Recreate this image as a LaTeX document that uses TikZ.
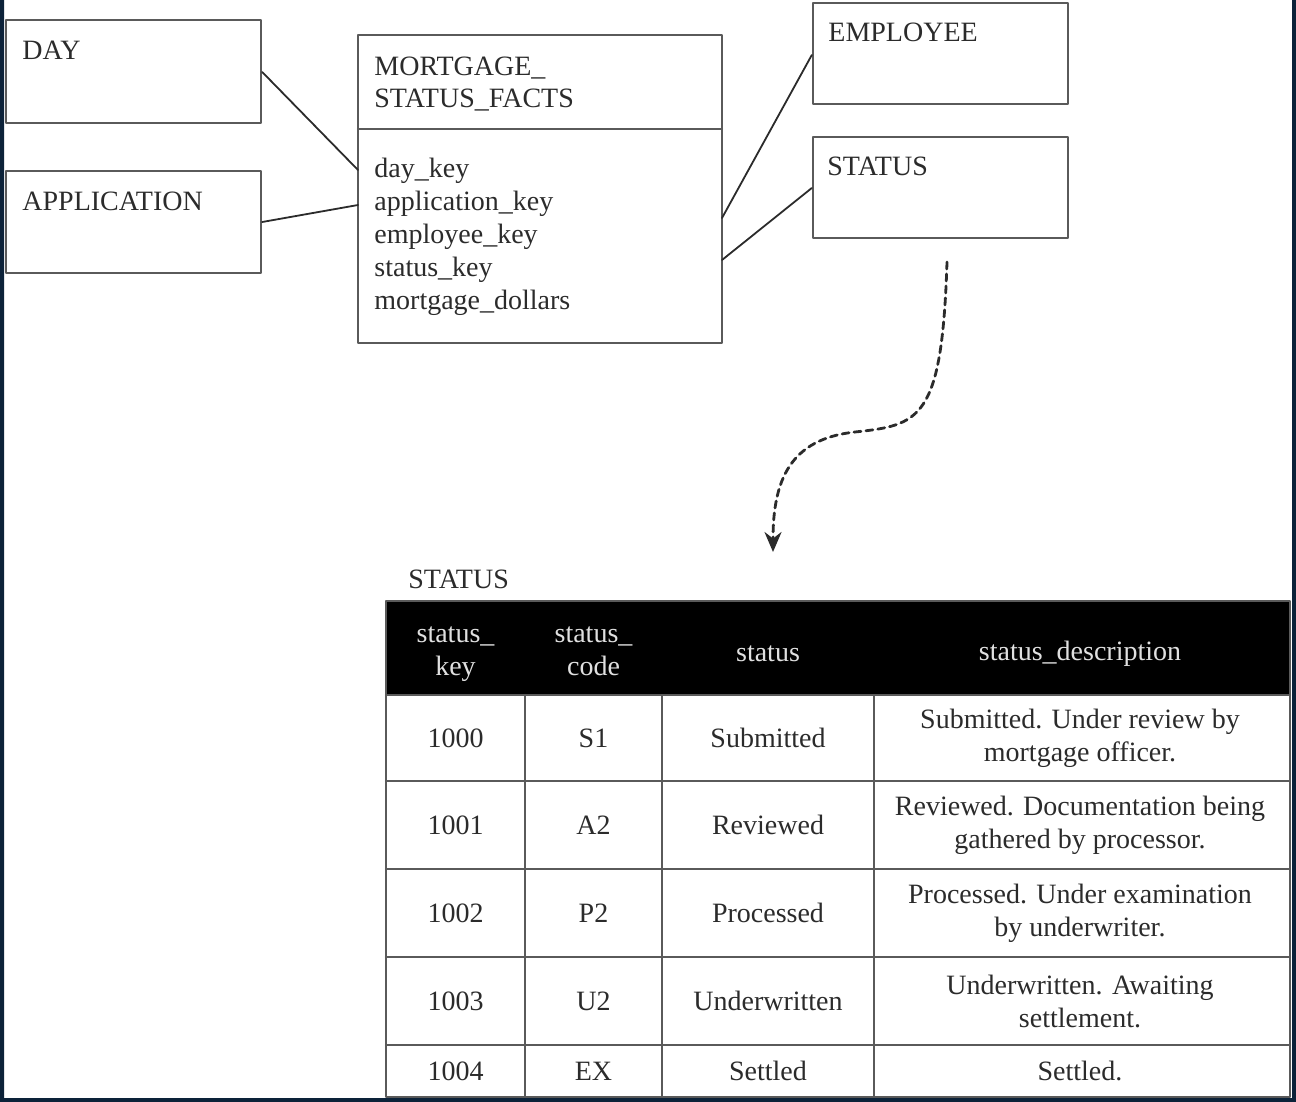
\documentclass[tikz,border=0pt]{standalone}
\usepackage{fontspec}
\setmainfont{Liberation Serif}
\usetikzlibrary{arrows.meta}
\definecolor{frame}{HTML}{0C2239}
\definecolor{ink}{HTML}{2B2B2B}
\definecolor{rule}{HTML}{5A5A5A}
\tikzset{
  box/.style={draw=rule, line width=1.2pt, inner sep=0pt},
  boxtext/.style={anchor=base west, inner sep=0pt, text=ink},
  link/.style={draw=ink, line width=0.9pt},
  flow/.style={draw=ink, line width=1.4pt, dash pattern=on 3.5pt off 2.5pt, -{Stealth[length=10pt,width=8.5pt]}},
  cell/.style={inner sep=0pt, align=center, text=ink},
  headcell/.style={cell, text=white!88!black},
}
\begin{document}
\begin{tikzpicture}[x=0.5pt, y=-0.5pt, font=\fontsize{14}{16.5}\selectfont, line join=round, line cap=round]
\useasboundingbox (0,0) rectangle (1296,1102);
\fill[frame] (0,0) rectangle (4,1102) (1292,0) rectangle (1296,1102) (0,1098) rectangle (1296,1102);

% dimension boxes
\node[box, minimum width=127.5pt, minimum height=51.5pt] (day) at (133.5,71.5) {};
\node[box, minimum width=127.5pt, minimum height=51pt] (application) at (133.5,222) {};
\node[box, minimum width=127.5pt, minimum height=50.5pt] (employee) at (940.5,53.5) {};
\node[box, minimum width=127.5pt, minimum height=50.5pt] (status) at (940.5,187.5) {};
\node[boxtext] at (22,60) {DAY};
\node[boxtext] at (22,211) {APPLICATION};
\node[boxtext] at (828,42) {EMPLOYEE};
\node[boxtext] at (827,176) {STATUS};

% fact table
\node[box, minimum width=182pt, minimum height=154pt] (facts) at (540,189) {};
\draw[rule, line width=1.2pt] (358,129) -- (722,129);
\node[boxtext] at (374,76) {MORTGAGE\_};
\node[boxtext] at (374,108) {STATUS\_FACTS};
\foreach \a [count=\i] in {day\_key, application\_key, employee\_key, status\_key, mortgage\_dollars}
  \node[boxtext] at (374,144+33*\i) {\a};

% links
\coordinate (f1) at (358,170);
\coordinate (f2) at (358,205);
\coordinate (f3) at (722,218);
\coordinate (f4) at (722,260);
\draw[link] (day.east |- 0,72) -- (f1);
\draw[link] (application.east |- 0,222) -- (f2);
\draw[link] (f3) -- (employee.west |- 0,55);
\draw[link] (f4) -- (status.west |- 0,188);

% dashed arrow to the lookup table
\coordinate (arrowstart) at (947,262);
\coordinate (arrowend) at (773,552);
\draw[flow] (arrowstart) .. controls (942,420) and (920,425) .. (855,432)
  .. controls (790,439) and (773,480) .. (arrowend);

% STATUS table
\node[boxtext] at (408,588) {STATUS};
\fill[black] (386,601) rectangle (1290,695);
\draw[rule, line width=1.2pt] (386,601) rectangle (1290,1097);
\foreach \y in {695,781,869,957,1045}
  \draw[rule, line width=1.2pt] (386,\y) -- (1290,\y);
\foreach \x in {525,662,874}
  \draw[rule, line width=1.2pt] (\x,695) -- (\x,1097);
\node[headcell, anchor=north] at (455.5,626) {status\_\\key};
\node[headcell, anchor=north] at (593.5,626) {status\_\\code};
\node[headcell] at (768,654) {status};
\node[headcell] at (1080,654) {status\_description};
\foreach \y/\k/\c/\s/\d in {
  738/1000/S1/Submitted/{Submitted. Under review by\\mortgage officer.},
  825/1001/A2/Reviewed/{Reviewed. Documentation being\\gathered by processor.},
  913/1002/P2/Processed/{Processed. Under examination\\by underwriter.},
  1001/1003/U2/Underwritten/{Underwritten. Awaiting\\settlement.},
  1071/1004/EX/Settled/{Settled.}}{
  \node[cell] at (455.5,\y) {\k};
  \node[cell] at (593.5,\y) {\c};
  \node[cell] at (768,\y) {\s};
  \node[cell] at (1080,\y) {\d};
}
\end{tikzpicture}
\end{document}
